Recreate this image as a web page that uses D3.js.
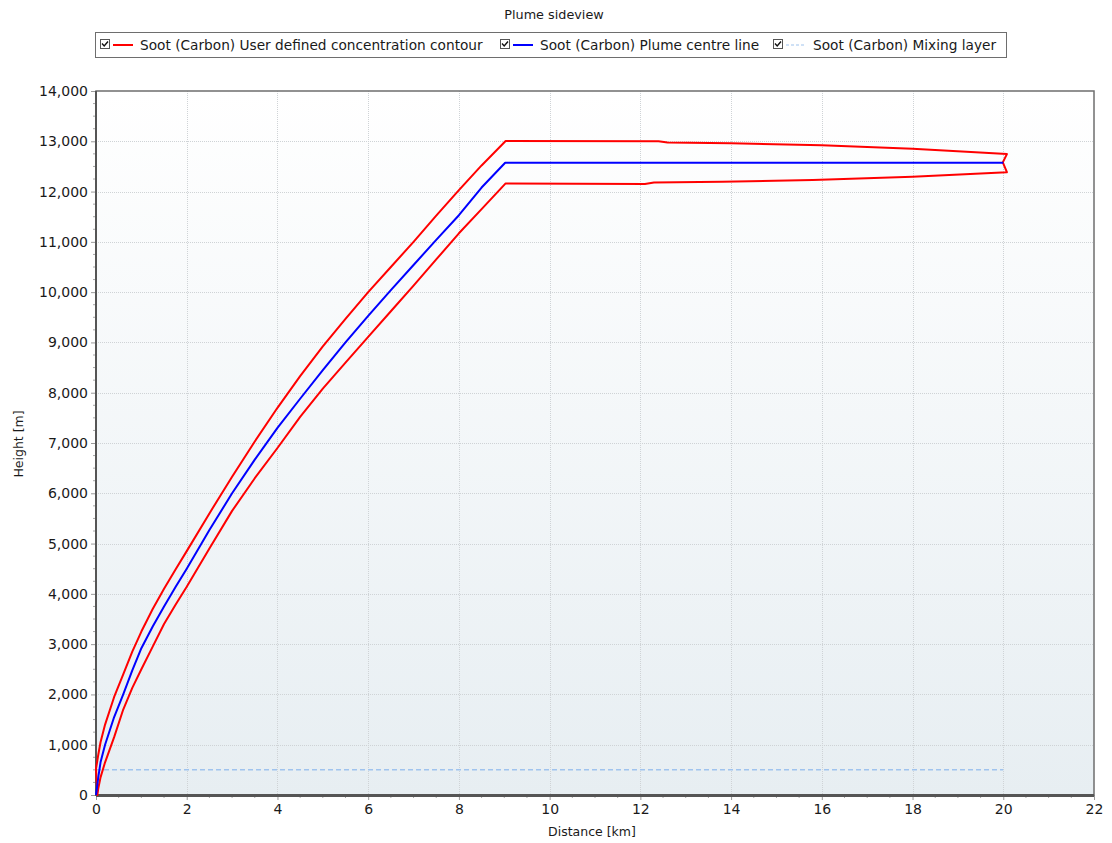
<!DOCTYPE html>
<html>
<head>
<meta charset="utf-8">
<script src="https://cdn.jsdelivr.net/npm/d3@7"></script>
<style>
  body { margin: 0; background: #ffffff; }
  svg { display: block; }
  text { font-family: "DejaVu Sans", Verdana, sans-serif; fill: #1a1a1a; }
</style>
</head>
<body>
<svg id="chart" width="1112" height="843"></svg>
<script>
// ---- data ---------------------------------------------------------------
// Plume centre line: distance [km], height [m]
const centreX = [0, 0.05, 0.1, 0.2, 0.4, 0.6, 0.8, 1.0, 1.25, 1.5, 1.75, 2.0, 2.5, 3.0, 3.5, 4.0, 4.5, 5.0, 5.5, 6.0, 6.5, 7.0, 7.5, 8.0, 8.5, 9.02, 20.0];
const centreY = [0, 350, 650, 1000, 1550, 2000, 2480, 2920, 3350, 3750, 4130, 4500, 5270, 6000, 6670, 7300, 7880, 8450, 9000, 9530, 10040, 10540, 11040, 11530, 12080, 12573, 12573];

// Concentration contour, upper edge (rising part then the plateau out to the tip)
const upperX = [0, 0.05, 0.1, 0.2, 0.4, 0.6, 0.8, 1.0, 1.25, 1.5, 1.75, 2.0, 2.5, 3.0, 3.5, 4.0, 4.5, 5.0, 5.5, 6.0, 6.5, 7.0, 7.5, 8.0, 8.5, 9.03, 12.4, 12.6, 14.0, 16.0, 18.0, 20.08];
const upperY = [520, 800, 1050, 1400, 1950, 2400, 2850, 3250, 3700, 4100, 4480, 4850, 5600, 6330, 7030, 7700, 8330, 8920, 9470, 10000, 10500, 11000, 11520, 12030, 12520, 13005, 13000, 12975, 12960, 12920, 12850, 12745];

// Tip notch of the contour at the end of the plume
const tipX = [19.99];
const tipY = [12580];

// Concentration contour, lower edge (from the origin out to the tip)
const lowerX = [0.03, 0.05, 0.1, 0.2, 0.4, 0.6, 0.8, 1.0, 1.25, 1.5, 1.75, 2.0, 2.5, 3.0, 3.5, 4.0, 4.5, 5.0, 5.5, 6.0, 6.5, 7.0, 7.5, 8.0, 8.5, 9.03, 12.1, 12.3, 13.8, 15.8, 18.0, 20.08];
const lowerY = [0, 130, 350, 650, 1150, 1700, 2130, 2500, 2950, 3400, 3780, 4140, 4900, 5650, 6300, 6900, 7520, 8080, 8600, 9110, 9620, 10130, 10650, 11170, 11650, 12163, 12150, 12180, 12195, 12230, 12295, 12385];

// Mixing layer
const mixX = [0, 20];
const mixY = [500, 500];

// Axes
const xDomain = [0, 22];
const yDomain = [0, 14000];
const xTicks = [0, 2, 4, 6, 8, 10, 12, 14, 16, 18, 20, 22];
const yTicks = [0, 1000, 2000, 3000, 4000, 5000, 6000, 7000, 8000, 9000, 10000, 11000, 12000, 13000, 14000];

const legendLabels = [
  "Soot (Carbon) User defined concentration contour",
  "Soot (Carbon) Plume centre line",
  "Soot (Carbon) Mixing layer"
];

// ---- layout -------------------------------------------------------------
const plot = { left: 96, right: 1094, top: 91, bottom: 795 };
const svg = d3.select("#chart");

const x = d3.scaleLinear().domain(xDomain).range([plot.left, plot.right]);
const y = d3.scaleLinear().domain(yDomain).range([plot.bottom, plot.top]);

// background gradient of the plot area
const defs = svg.append("defs");
const grad = defs.append("linearGradient").attr("id", "bg")
  .attr("x1", 0).attr("y1", 0).attr("x2", 0).attr("y2", 1);
grad.append("stop").attr("offset", "0%").attr("stop-color", "#ffffff");
grad.append("stop").attr("offset", "100%").attr("stop-color", "#e7eef2");

svg.append("rect")
  .attr("x", plot.left).attr("y", plot.top)
  .attr("width", plot.right - plot.left).attr("height", plot.bottom - plot.top)
  .attr("fill", "url(#bg)");

// grid lines
const grid = svg.append("g").attr("stroke", "#cfd3d6").attr("stroke-width", 1).attr("stroke-dasharray", "1,1");
grid.selectAll(".gx").data(xTicks.slice(1, -1)).join("line")
  .attr("x1", d => Math.round(x(d)) + 0.5).attr("x2", d => Math.round(x(d)) + 0.5)
  .attr("y1", plot.top).attr("y2", plot.bottom);
grid.selectAll(".gy").data(yTicks.slice(1, -1)).join("line")
  .attr("y1", d => Math.round(y(d)) + 0.5).attr("y2", d => Math.round(y(d)) + 0.5)
  .attr("x1", plot.left).attr("x2", plot.right);

// axes
const fmt = d3.format(",");
const xAxis = d3.axisBottom(x).tickValues(xTicks).tickFormat(d3.format("d")).tickSize(5).tickPadding(4);
const yAxis = d3.axisLeft(y).tickValues(yTicks).tickFormat(fmt).tickSize(5).tickPadding(3);

const minorX = d3.range(0, 22.01, 0.5).filter(v => Math.abs(v % 2) > 1e-6);
const minorY = d3.range(0, 14001, 250).filter(v => v % 1000 !== 0);

const gx = svg.append("g").attr("transform", `translate(0,${plot.bottom})`).call(xAxis);
const gy = svg.append("g").attr("transform", `translate(${plot.left},0)`).call(yAxis);
[gx, gy].forEach(g => {
  g.select(".domain").remove();
  g.selectAll(".tick line").attr("stroke", "#9a9a9a");
  g.selectAll(".tick text").attr("font-size", 14).attr("fill", "#1a1a1a")
    .attr("font-family", '"DejaVu Sans", Verdana, sans-serif');
});
svg.append("g").selectAll("line").data(minorX).join("line")
  .attr("x1", d => x(d)).attr("x2", d => x(d))
  .attr("y1", plot.bottom).attr("y2", plot.bottom + 3)
  .attr("stroke", "#a8a8a8");
svg.append("g").selectAll("line").data(minorY).join("line")
  .attr("y1", d => y(d)).attr("y2", d => y(d))
  .attr("x1", plot.left - 3).attr("x2", plot.left)
  .attr("stroke", "#a8a8a8");

// plot frame
svg.append("rect")
  .attr("x", plot.left).attr("y", plot.top)
  .attr("width", plot.right - plot.left).attr("height", plot.bottom - plot.top)
  .attr("fill", "none").attr("stroke", "#6e6e6e").attr("stroke-width", 1.5);
svg.append("line")
  .attr("x1", plot.left).attr("x2", plot.left).attr("y1", plot.top).attr("y2", plot.bottom + 1)
  .attr("stroke", "#555555").attr("stroke-width", 2);
svg.append("line")
  .attr("x1", plot.left).attr("x2", plot.right).attr("y1", plot.bottom + 0.5).attr("y2", plot.bottom + 0.5)
  .attr("stroke", "#555555").attr("stroke-width", 3);

// series
const line = d3.line().x(d => x(d[0])).y(d => y(d[1]));
const zip = (xs, ys) => xs.map((v, i) => [v, ys[i]]);

svg.append("path")
  .datum(zip(mixX, mixY))
  .attr("d", line).attr("fill", "none")
  .attr("stroke", "#9fc3ee").attr("stroke-width", 1.5).attr("stroke-dasharray", "5,3");

// closed contour: upper edge out, notch at the tip, lower edge back
const contour = zip(upperX, upperY)
  .concat(zip(tipX, tipY))
  .concat(zip(lowerX, lowerY).reverse());
svg.append("path")
  .datum(contour)
  .attr("d", d => line(d) + "Z").attr("fill", "none")
  .attr("stroke", "#ff0000").attr("stroke-width", 2).attr("stroke-linejoin", "round");

svg.append("path")
  .datum(zip(centreX, centreY))
  .attr("d", line).attr("fill", "none")
  .attr("stroke", "#0000ff").attr("stroke-width", 2).attr("stroke-linejoin", "round");

// titles
svg.append("text").attr("x", 554).attr("y", 19).attr("text-anchor", "middle")
  .attr("font-size", 12.8).text("Plume sideview");
svg.append("text").attr("x", 592).attr("y", 836).attr("text-anchor", "middle")
  .attr("font-size", 12.5).text("Distance [km]");
svg.append("text").attr("transform", `translate(23,${444}) rotate(-90)`)
  .attr("text-anchor", "middle").attr("font-size", 12.5).text("Height [m]");

// legend
const lg = svg.append("g");
lg.append("rect").attr("x", 95.5).attr("y", 32.5).attr("width", 911).attr("height", 25)
  .attr("fill", "#ffffff").attr("stroke", "#6e6e6e").attr("stroke-width", 1);
const legendItems = [
  { x: 100, color: "#ff0000", dash: null, label: legendLabels[0] },
  { x: 500, color: "#0000ff", dash: null, label: legendLabels[1] },
  { x: 773, color: "#9fc3ee", dash: "3,2", label: legendLabels[2] }
];
legendItems.forEach(it => {
  const g = lg.append("g").attr("transform", `translate(${it.x},0)`);
  g.append("rect").attr("x", 0.5).attr("y", 39.5).attr("width", 9).attr("height", 9)
    .attr("fill", "#ffffff").attr("stroke", "#555555");
  g.append("path").attr("d", "M2,43.5 L4.2,46 L8,41.5")
    .attr("fill", "none").attr("stroke", "#111111").attr("stroke-width", 1.4);
  g.append("line").attr("x1", 13).attr("x2", 33).attr("y1", 45).attr("y2", 45)
    .attr("stroke", it.color).attr("stroke-width", it.dash ? 1.2 : 2)
    .attr("stroke-dasharray", it.dash);
  g.append("text").attr("x", 40).attr("y", 50).attr("font-size", 13.7).text(it.label);
});
</script>
</body>
</html>
